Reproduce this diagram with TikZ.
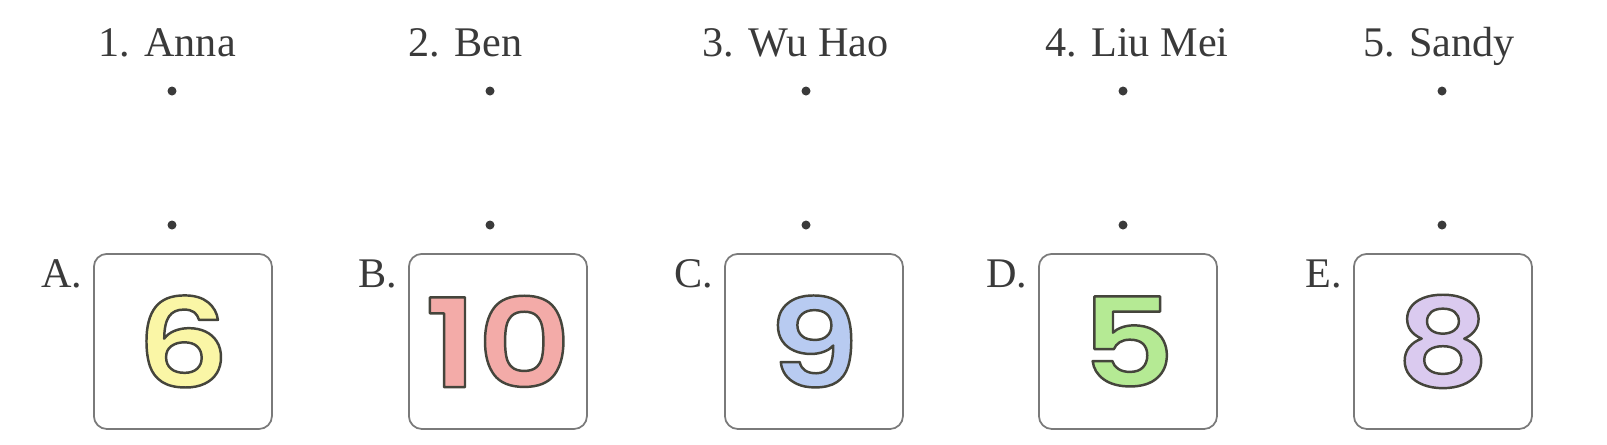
\documentclass[tikz,border=0pt]{standalone}
\usepackage{fontspec}
\setmainfont{Liberation Serif}
\newfontfamily\digitfont{Poppins}[UprightFont=* SemiBold, FakeBold=2, FakeStretch=1.18]
\usetikzlibrary{positioning}
\definecolor{mtInk}{HTML}{3A3A3A}
\definecolor{mtLine}{HTML}{7A7A7A}
\definecolor{mtYellow}{HTML}{FAF6A6}
\definecolor{mtPink}{HTML}{F3ABA8}
\definecolor{mtBlue}{HTML}{B8CBF1}
\definecolor{mtGreen}{HTML}{B5EA94}
\definecolor{mtLilac}{HTML}{DACAEF}
% stroke colour for the outlined digits, fill comes from \color
\newcommand\edgestroke{\special{pdf:literal direct 0.27 0.27 0.235 RG 1 j 1 J}}
\tikzset{
  mt diagram/.style={x=0.01cm, y=-0.01cm,
    font=\fontsize{12pt}{14pt}\selectfont, text=mtInk},
  mt name/.style={anchor=base west, inner sep=0pt},
  mt dot/.style={circle, fill=mtInk, inner sep=0pt, minimum size=0.09cm},
  mt card/.style={draw=mtLine, line width=0.5pt, rounded corners=0.13cm,
    minimum width=1.78cm, minimum height=1.75cm, inner sep=0pt,
    anchor=north west},
  mt letter/.style={anchor=base east, inner sep=0pt},
  mt digit/.style={font=\digitfont\fontsize{35pt}{38pt}\selectfont}
}
\begin{document}
\begin{tikzpicture}[mt diagram]
\useasboundingbox (0,0) rectangle (1607,444);
\foreach \i/\dotx/\namex/\name/\boxx/\letter/\num/\col in {
    1/172/98/{1. Anna}/93/A/6/mtYellow,
    2/490/408/{2. Ben}/408/B/10/mtPink,
    3/806/702/{3. Wu Hao}/724/C/9/mtBlue,
    4/1123/1045/{4. Liu Mei}/1038/D/5/mtGreen,
    5/1442/1363/{5. Sandy}/1353/E/8/mtLilac}{
  \node[mt name] (name\i) at (\namex,56) {\name};
  \node[mt dot] (top\i) at (\dotx,91) {};
  \node[mt dot] (bot\i) at (\dotx,225) {};
  \node[mt card] (card\i) at (\boxx,253) {};
  \node[mt letter] (letter\i) at ([xshift=-0.1cm,yshift=-0.34cm]card\i.north west) {\letter.};
  \node[mt digit] (digit\i) at (card\i.center) {\color{\col}\edgestroke\num};
}
\end{tikzpicture}
\end{document}
